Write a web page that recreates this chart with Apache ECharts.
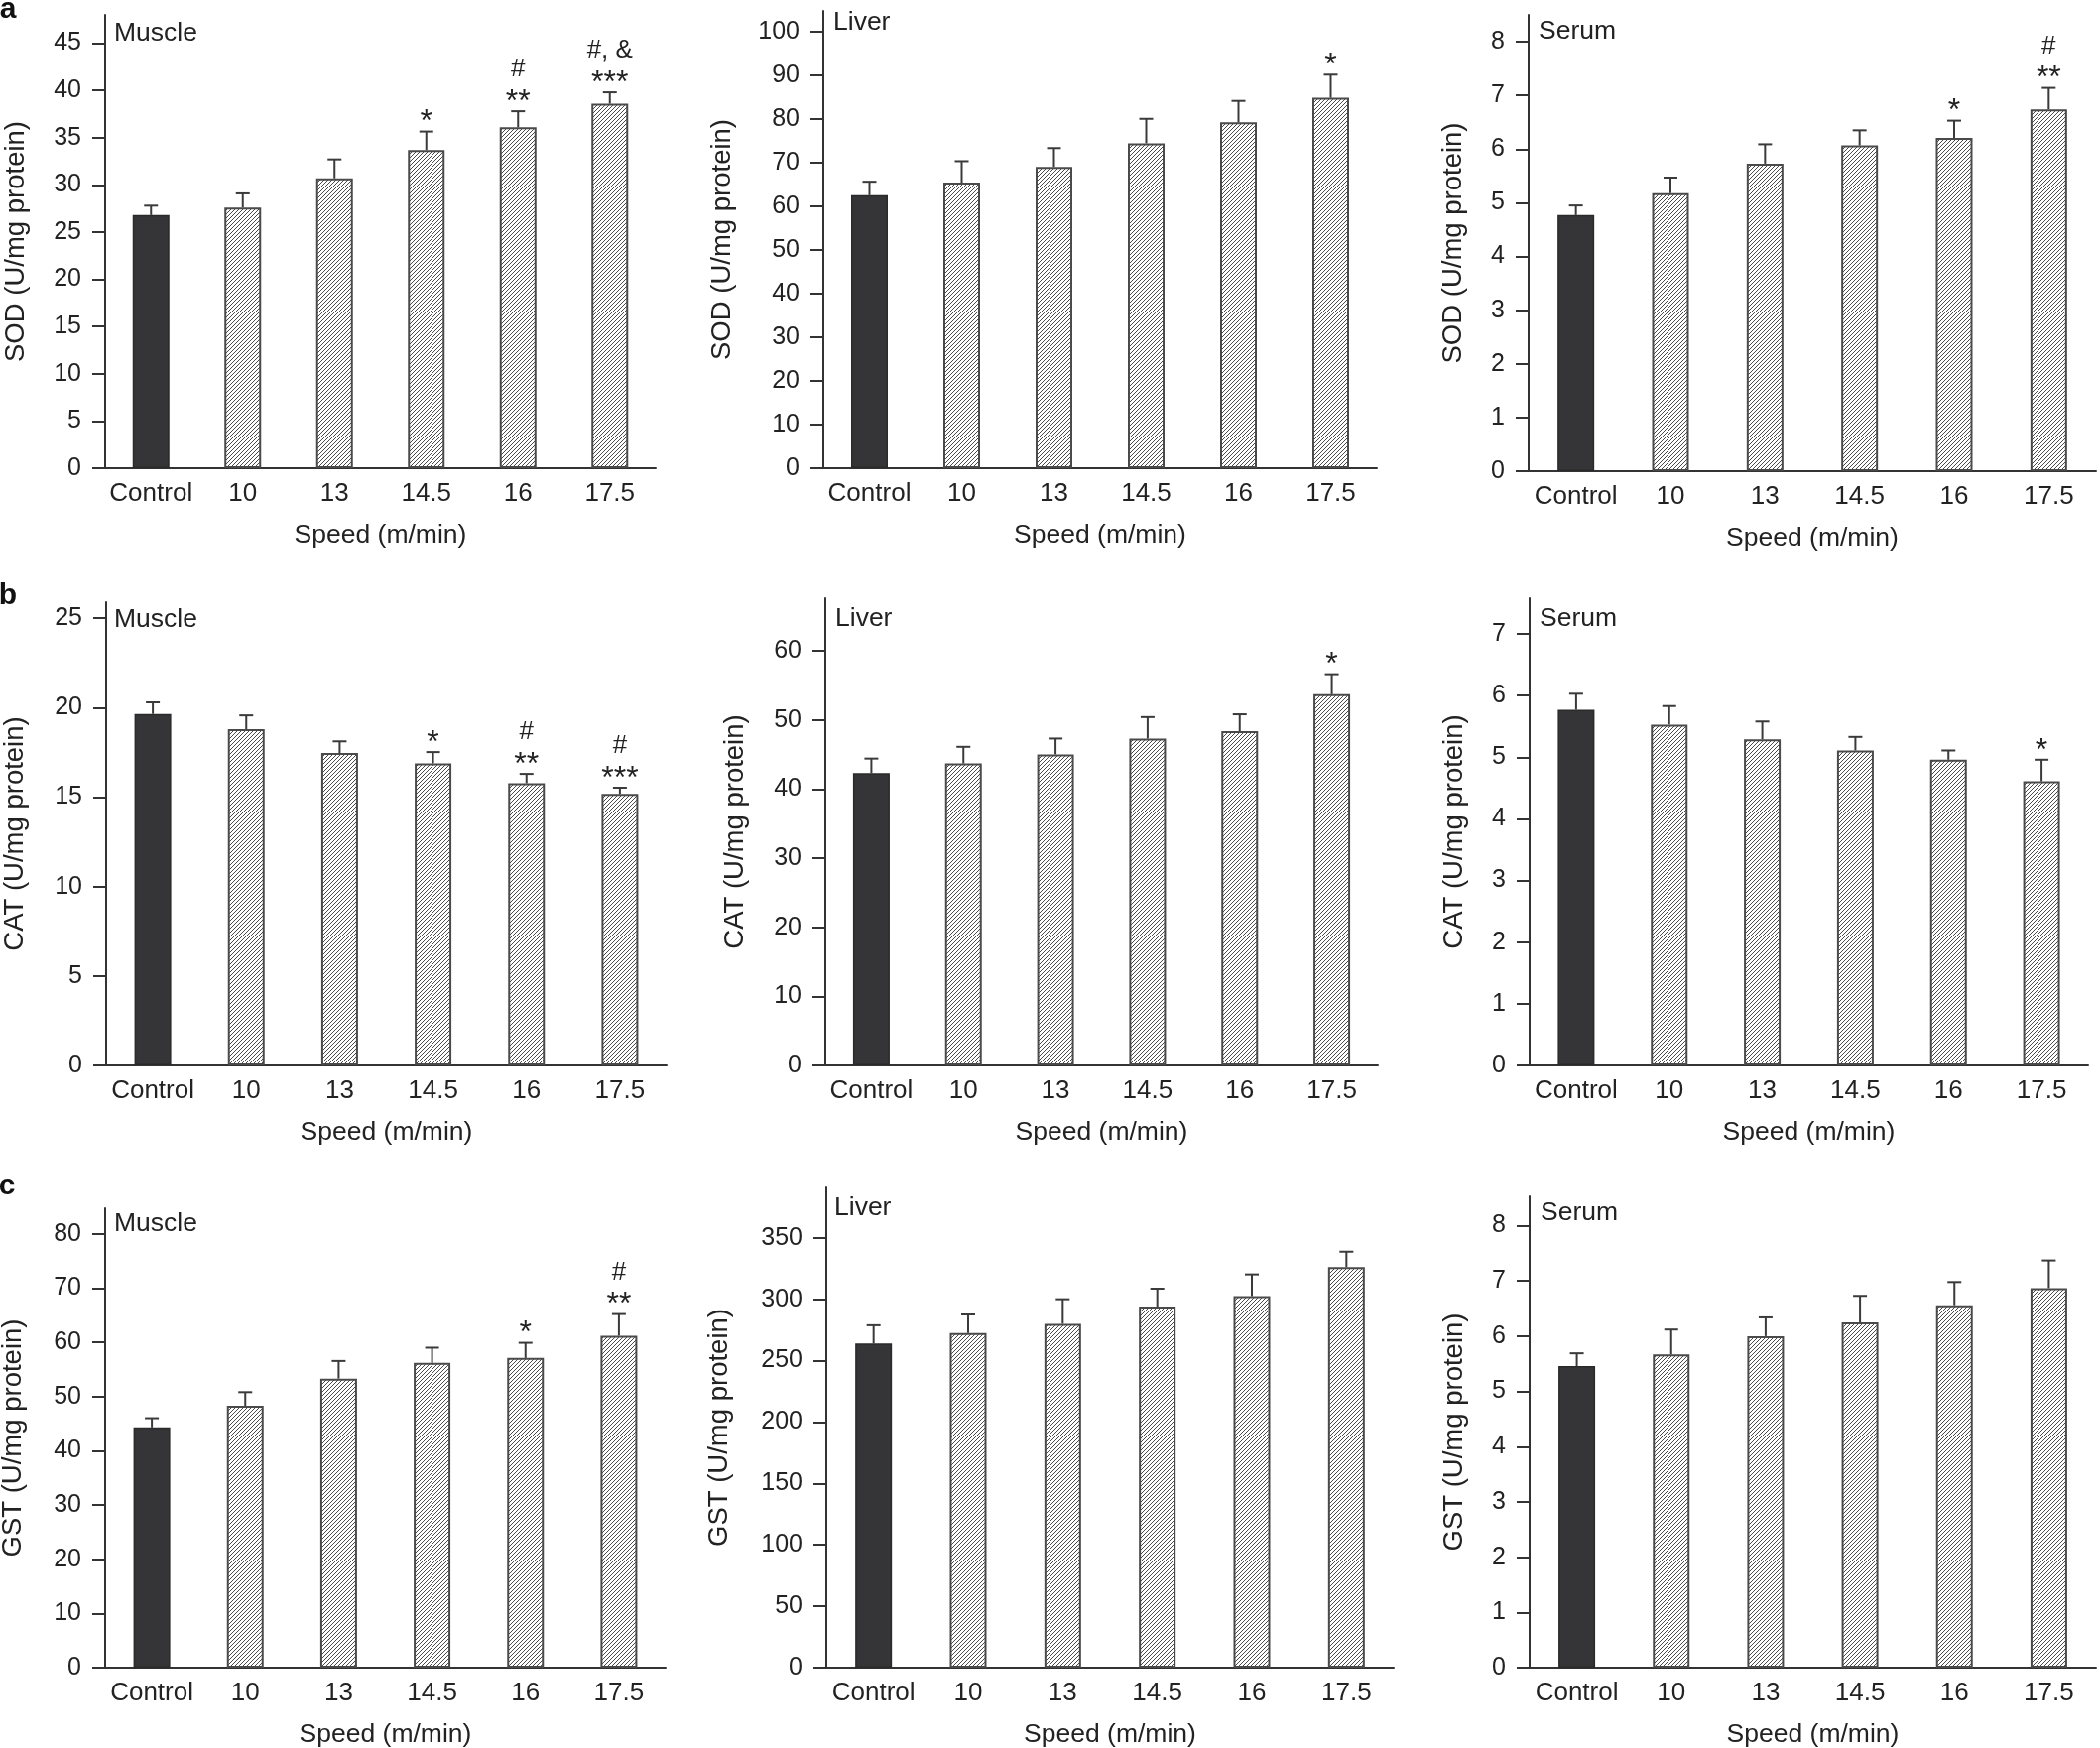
<!DOCTYPE html>
<html>
<head>
<meta charset="utf-8">
<script src="https://cdn.jsdelivr.net/npm/echarts@6/dist/echarts.min.js"></script>
<style>html,body{margin:0;padding:0;background:#fff}#c{width:2117px;height:1762px}</style>
</head>
<body>
<div id="c"></div>
<script>
// ---------- data ----------
const categories = ['Control', '10', '13', '14.5', '16', '17.5'];
const xAxisName = 'Speed (m/min)';

const sodMuscle = [26.8, 27.6, 30.7, 33.7, 36.1, 38.6];
const sodMuscleSem = [1.0, 1.5, 2.0, 1.95, 1.7, 1.2];
const sodMuscleSig = ['', '', '', '*', '#\n**', '#, &\n***'];
const sodMuscleTicks = [0, 5, 10, 15, 20, 25, 30, 35, 40, 45];

const sodLiver = [62.5, 65.4, 69.0, 74.4, 79.2, 84.8];
const sodLiverSem = [3.1, 4.9, 4.3, 5.6, 4.9, 5.3];
const sodLiverSig = ['', '', '', '', '', '*'];
const sodLiverTicks = [0, 10, 20, 30, 40, 50, 60, 70, 80, 90, 100];

const sodSerum = [4.77, 5.18, 5.73, 6.07, 6.21, 6.74];
const sodSerumSem = [0.18, 0.29, 0.36, 0.28, 0.32, 0.40];
const sodSerumSig = ['', '', '', '', '*', '#\n**'];
const sodSerumTicks = [0, 1, 2, 3, 4, 5, 6, 7, 8];

const catMuscle = [19.65, 18.8, 17.47, 16.89, 15.78, 15.18];
const catMuscleSem = [0.65, 0.77, 0.65, 0.63, 0.52, 0.35];
const catMuscleSig = ['', '', '', '*', '#\n**', '#\n***'];
const catMuscleTicks = [0, 5, 10, 15, 20, 25];

const catLiver = [42.3, 43.7, 45.0, 47.3, 48.35, 53.7];
const catLiverSem = [2.1, 2.4, 2.3, 3.1, 2.45, 2.9];
const catLiverSig = ['', '', '', '', '', '*'];
const catLiverTicks = [0, 10, 20, 30, 40, 50, 60];

const catSerum = [5.77, 5.53, 5.29, 5.11, 4.96, 4.61];
const catSerumSem = [0.26, 0.30, 0.29, 0.22, 0.15, 0.35];
const catSerumSig = ['', '', '', '', '', '*'];
const catSerumTicks = [0, 1, 2, 3, 4, 5, 6, 7];

const gstMuscle = [44.3, 48.3, 53.3, 56.2, 57.1, 61.2];
const gstMuscleSem = [1.7, 2.5, 3.25, 2.8, 2.8, 4.0];
const gstMuscleSig = ['', '', '', '', '*', '#\n**'];
const gstMuscleTicks = [0, 10, 20, 30, 40, 50, 60, 70, 80];

const gstLiver = [263.9, 272.4, 280, 294, 302.5, 326.2];
const gstLiverSem = [14.9, 15.2, 20, 14.6, 17.7, 12.5];
const gstLiverSig = ['', '', '', '', '', ''];
const gstLiverTicks = [0, 50, 100, 150, 200, 250, 300, 350];

const gstSerum = [5.46, 5.67, 6.0, 6.25, 6.56, 6.87];
const gstSerumSem = [0.23, 0.45, 0.34, 0.48, 0.42, 0.50];
const gstSerumSig = ['', '', '', '', '', ''];
const gstSerumTicks = [0, 1, 2, 3, 4, 5, 6, 7, 8];

// ---------- layout / style ----------
const FONT = '"Liberation Sans", Arial, Helvetica, sans-serif';
const TXT = '#222';
const AX = '#333';

const panels = [
  {mean: sodMuscle, sem: sodMuscleSem, sig: sodMuscleSig, ticks: sodMuscleTicks, max: 48, yName: 'SOD (U/mg protein)', tissue: 'Muscle', L: 106, R: 661, T: 15, B: 472, gap: 76, tx: 115, ty: 34},
  {mean: sodLiver, sem: sodLiverSem, sig: sodLiverSig, ticks: sodLiverTicks, max: 104.7, yName: 'SOD (U/mg protein)', tissue: 'Liver', L: 830, R: 1388, T: 11, B: 472, gap: 88, tx: 840, ty: 23},
  {mean: sodSerum, sem: sodSerumSem, sig: sodSerumSig, ticks: sodSerumTicks, max: 8.5, yName: 'SOD (U/mg protein)', tissue: 'Serum', L: 1541, R: 2113, T: 15, B: 475, gap: 62, tx: 1551, ty: 32},
  {mean: catMuscle, sem: catMuscleSem, sig: catMuscleSig, ticks: catMuscleTicks, max: 25.9, yName: 'CAT (U/mg protein)', tissue: 'Muscle', L: 107, R: 672, T: 607, B: 1074, gap: 78, tx: 115, ty: 625},
  {mean: catLiver, sem: catLiverSem, sig: catLiverSig, ticks: catLiverTicks, max: 67.6, yName: 'CAT (U/mg protein)', tissue: 'Liver', L: 832, R: 1389, T: 603, B: 1074, gap: 77, tx: 842, ty: 624},
  {mean: catSerum, sem: catSerumSem, sig: catSerumSig, ticks: catSerumTicks, max: 7.58, yName: 'CAT (U/mg protein)', tissue: 'Serum', L: 1542, R: 2105, T: 603, B: 1074, gap: 62, tx: 1552, ty: 624},
  {mean: gstMuscle, sem: gstMuscleSem, sig: gstMuscleSig, ticks: gstMuscleTicks, max: 84.7, yName: 'GST (U/mg protein)', tissue: 'Muscle', L: 106, R: 671, T: 1218, B: 1681, gap: 79, tx: 115, ty: 1234},
  {mean: gstLiver, sem: gstLiverSem, sig: gstLiverSig, ticks: gstLiverTicks, max: 391, yName: 'GST (U/mg protein)', tissue: 'Liver', L: 833, R: 1405, T: 1197, B: 1681, gap: 94, tx: 841, ty: 1218},
  {mean: gstSerum, sem: gstSerumSem, sig: gstSerumSig, ticks: gstSerumTicks, max: 8.53, yName: 'GST (U/mg protein)', tissue: 'Serum', L: 1542, R: 2113, T: 1206, B: 1681, gap: 62, tx: 1553, ty: 1223}
];

const panelLetters = [
  {text: 'a', x: 8, y: 10},
  {text: 'b', x: 8, y: 601},
  {text: 'c', x: 7, y: 1196}
];

// diagonal hatch pattern
const hatch = (function () {
  const c = document.createElement('canvas');
  c.width = 4; c.height = 4;
  const g = c.getContext('2d');
  g.fillStyle = '#ffffff';
  g.fillRect(0, 0, 4, 4);
  g.strokeStyle = '#4a4a4a';
  g.lineWidth = 1;
  g.beginPath();
  g.moveTo(0, 4); g.lineTo(4, 0);
  g.moveTo(-1, 1); g.lineTo(1, -1);
  g.moveTo(3, 5); g.lineTo(5, 3);
  g.stroke();
  return c;
})();

const grids = [], xAxes = [], yAxes = [], series = [], graphics = [];

panels.forEach(function (p, i) {
  grids.push({left: p.L, top: p.T, width: p.R - p.L, height: p.B - p.T, containLabel: false, outerBoundsMode: 'none'});
  xAxes.push({
    gridIndex: i, type: 'category', data: categories,
    axisLine: {show: true, lineStyle: {color: AX, width: 2}},
    axisTick: {show: false},
    axisLabel: {interval: 0, fontSize: 26, color: TXT, fontFamily: FONT, margin: 13},
    splitLine: {show: false},
    name: xAxisName, nameLocation: 'middle', nameGap: 54,
    nameTextStyle: {fontSize: 26.5, color: TXT, fontFamily: FONT}
  });
  yAxes.push({
    gridIndex: i, type: 'value', min: 0, max: p.max,
    name: p.yName, nameLocation: 'middle', nameRotate: 90, nameGap: p.gap,
    nameTextStyle: {fontSize: 27.5, color: TXT, fontFamily: FONT},
    axisLine: {show: true, lineStyle: {color: AX, width: 2}},
    axisTick: {show: true, inside: false, length: 13, lineStyle: {color: AX, width: 2}, customValues: p.ticks},
    axisLabel: {customValues: p.ticks, fontSize: 25, color: TXT, fontFamily: FONT, margin: 24},
    splitLine: {show: false}
  });
  series.push({
    type: 'bar', xAxisIndex: i, yAxisIndex: i, barWidth: 37,
    data: p.mean.map(function (v, j) {
      return j === 0
        ? {value: v, itemStyle: {color: '#353437', borderColor: '#2a2a2a', borderWidth: 1.5}}
        : {value: v, itemStyle: {color: {image: hatch, repeat: 'repeat'}, borderColor: '#4a4a4a', borderWidth: 2}};
    }),
    silent: true, z: 2
  });
  series.push({
    type: 'custom', xAxisIndex: i, yAxisIndex: i, z: 3, silent: true,
    data: p.mean.map(function (v, j) { return [j, v, v + p.sem[j]]; }),
    renderItem: function (params, api) {
      const j = api.value(0);
      const p0 = api.coord([j, api.value(1)]);
      const p1 = api.coord([j, api.value(2)]);
      const kids = [
        {type: 'line', shape: {x1: p0[0], y1: p0[1], x2: p1[0], y2: p1[1]}, style: {stroke: '#3a3a3a', lineWidth: 2}},
        {type: 'line', shape: {x1: p1[0] - 7, y1: p1[1], x2: p1[0] + 7, y2: p1[1]}, style: {stroke: '#3a3a3a', lineWidth: 2}}
      ];
      const s = p.sig[params.dataIndex];
      if (s) {
        const lines = s.split('\n');
        const bottom = lines[lines.length - 1];
        kids.push({type: 'text', style: {text: bottom, x: p1[0], y: p1[1] - 9, align: 'center', verticalAlign: 'middle', fontSize: 32, fontFamily: FONT, fill: TXT}});
        if (lines.length > 1) {
          kids.push({type: 'text', style: {text: lines[0], x: p1[0], y: p1[1] - 42, align: 'center', verticalAlign: 'middle', fontSize: 26, fontFamily: FONT, fill: TXT}});
        }
      }
      return {type: 'group', children: kids};
    }
  });
  graphics.push({type: 'text', left: p.tx, top: p.ty - 14, style: {text: p.tissue, fontSize: 26.5, fontFamily: FONT, fill: TXT}});
});

panelLetters.forEach(function (l) {
  graphics.push({type: 'text', x: l.x, y: l.y, style: {text: l.text, align: 'center', verticalAlign: 'middle', fontSize: 30, fontWeight: 'bold', fontFamily: FONT, fill: '#111'}});
});

const chart = echarts.init(document.getElementById('c'), null, {renderer: 'canvas'});
chart.setOption({
  backgroundColor: '#ffffff',
  animation: false,
  grid: grids,
  xAxis: xAxes,
  yAxis: yAxes,
  series: series,
  graphic: graphics
});
</script>
</body>
</html>
